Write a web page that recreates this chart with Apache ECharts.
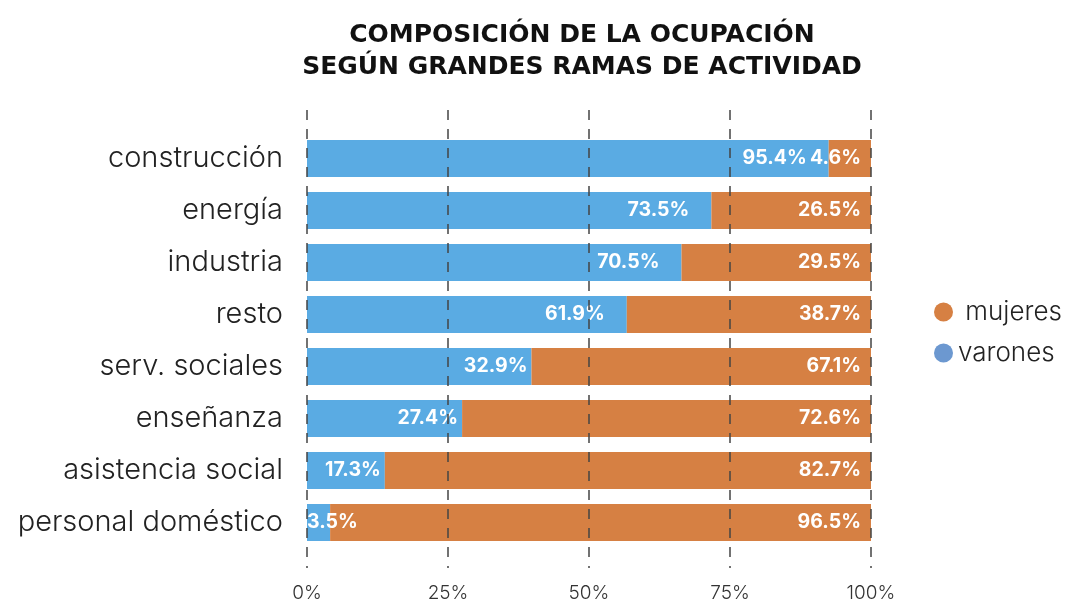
<!DOCTYPE html>
<html>
<head>
<meta charset="utf-8">
<script src="https://cdn.jsdelivr.net/npm/echarts@6/dist/echarts.min.js"></script>
<style>
  html, body { margin: 0; padding: 0; background: #fff; }
  #main { width: 1070px; height: 603px; }
</style>
</head>
<body>
<div id="main"></div>
<script>
// ramas de actividad, de arriba hacia abajo
var categorias = ['construcción', 'energía', 'industria', 'resto', 'serv. sociales', 'enseñanza', 'asistencia social', 'personal doméstico'];
// largo de las barras (%)
var varones = [92.5, 71.7, 66.4, 56.7, 39.8, 27.5, 13.8, 4.1];
var mujeres = [7.5, 28.3, 33.6, 43.3, 60.2, 72.5, 86.2, 95.9];
// etiquetas impresas en las barras
var varonesTxt = ['95.4%', '73.5%', '70.5%', '61.9%', '32.9%', '27.4%', '17.3%', '3.5%'];
var mujeresTxt = ['4.6%', '26.5%', '29.5%', '38.7%', '67.1%', '72.6%', '82.7%', '96.5%'];
var ticks = [0, 25, 50, 75, 100];

var FONT = 'Inter';
var AZUL = '#5AABE3', NARANJA = '#D68043';

var myChart = echarts.init(document.getElementById('main'));

// barras cortas: la etiqueta va más pegada al borde
function datos(vals, txts, azul) {
  return vals.map(function (v, i) {
    var d = { value: v, label: { formatter: txts[i] } };
    if (azul) {
      if (v < 10) {
        d.label.position = 'insideLeft';
        d.label.distance = 0;
      } else if (v < 45) {
        d.label.distance = 4;
      }
    }
    return d;
  });
}

var labelBase = {
  show: true,
  position: 'insideRight',
  color: '#fff',
  fontFamily: FONT,
  fontWeight: 700,
  fontSize: 19.5
};

var option = {
  animation: false,
  title: {
    text: 'COMPOSICIÓN DE LA OCUPACIÓN\nSEGÚN GRANDES RAMAS DE ACTIVIDAD',
    left: 577,
    top: 14,
    textAlign: 'center',
    textStyle: {
      fontFamily: '"DejaVu Sans"',
      fontWeight: 'bold',
      fontSize: 25,
      lineHeight: 32,
      color: '#111'
    }
  },
  legend: {
    orient: 'vertical',
    left: 929,
    top: 294,
    itemWidth: 19,
    itemHeight: 19,
    itemGap: 15,
    icon: 'circle',
    formatter: function (n) { return n === 'mujeres' ? ' ' + n : n; },
    textStyle: { fontFamily: FONT, fontWeight: 300, fontSize: 26, color: '#222' },
    data: [
      { name: 'mujeres', itemStyle: { color: NARANJA } },
      { name: 'varones', itemStyle: { color: '#6C98D0' } }
    ]
  },
  grid: [
    { left: 307, right: 199, top: 132.5, height: 416 },
    { left: 307, right: 199, top: 110, bottom: 35 }
  ],
  xAxis: [
    {
      gridIndex: 0, type: 'value', min: 0, max: 100, interval: 25,
      show: false
    },
    {
      gridIndex: 1, type: 'value', min: 0, max: 100, interval: 25,
      z: 5,
      axisLine: { show: false },
      axisTick: { show: false },
      splitLine: {
        show: true,
        lineStyle: { color: '#444', width: 1.5, type: [10, 9] }
      },
      axisLabel: {
        margin: 16,
        fontFamily: FONT,
        fontWeight: 300,
        fontSize: 19,
        color: '#333',
        formatter: function (v) { return ticks.indexOf(v) >= 0 ? v + '%' : ''; }
      }
    }
  ],
  yAxis: [
    {
      gridIndex: 0, type: 'category', data: categorias, inverse: true,
      axisLine: { show: false },
      axisTick: { show: false },
      axisLabel: {
        margin: 24,
        fontFamily: FONT,
        fontWeight: 300,
        fontSize: 29,
        color: '#222'
      }
    },
    { gridIndex: 1, type: 'value', show: false }
  ],
  series: [
    {
      name: 'varones', type: 'bar', stack: 'total', barWidth: 37,
      xAxisIndex: 0, yAxisIndex: 0,
      itemStyle: { color: AZUL },
      label: Object.assign({}, labelBase, { distance: 22 }),
      data: datos(varones, varonesTxt, true)
    },
    {
      name: 'mujeres', type: 'bar', stack: 'total', barWidth: 37,
      xAxisIndex: 0, yAxisIndex: 0,
      itemStyle: { color: NARANJA },
      label: Object.assign({}, labelBase, { distance: 10 }),
      data: datos(mujeres, mujeresTxt, false)
    }
  ]
};

myChart.setOption(option);
</script>
</body>
</html>
